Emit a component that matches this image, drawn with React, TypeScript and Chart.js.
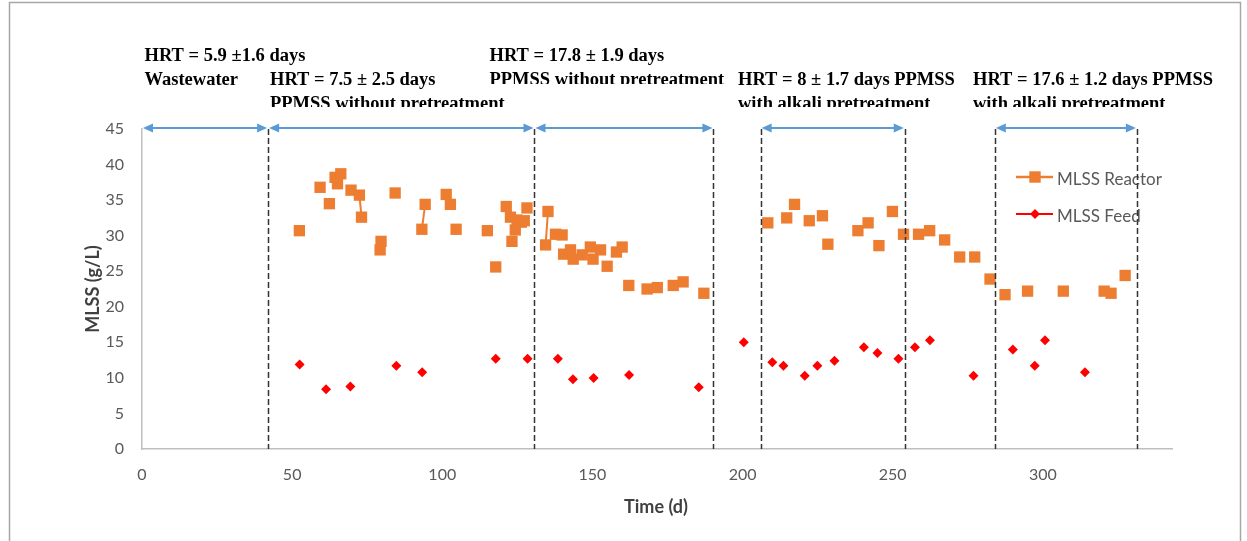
import React, { useEffect, useRef } from 'react';
import { Chart, registerables } from 'chart.js';

Chart.register(...registerables);

// ---- Data ----
const reactorDays = [
  52.4, 59.3, 62.4, 64.3, 65.1, 66.2, 69.6, 72.4, 73.1, 79.3, 79.6, 84.3, 93.2, 94.3,
  101.3, 102.7, 104.6, 115.0, 117.8, 121.3, 122.7, 123.2, 124.3, 124.9, 126.3, 127.3, 128.2,
  134.4, 135.2, 137.7, 139.9, 140.4, 142.7, 143.6, 146.6, 149.3, 150.2, 152.7, 154.9, 158.0,
  159.9, 162.1, 168.2, 171.6, 176.9, 180.2, 187.1, 208.4, 214.7, 217.3, 222.2, 226.6, 228.4,
  238.4, 241.8, 245.4, 249.9, 253.6, 258.6, 262.3, 267.3, 272.3, 277.3, 282.4, 287.4, 294.9,
  306.8, 320.4, 322.7, 327.4,
];
const reactorMLSS = [
  30.7, 36.8, 34.5, 38.2, 37.3, 38.7, 36.4, 35.7, 32.6, 28.0, 29.2, 36.0, 30.9, 34.4,
  35.8, 34.4, 30.9, 30.7, 25.6, 34.1, 32.6, 29.2, 30.8, 32.2, 31.9, 32.1, 33.9,
  28.7, 33.4, 30.2, 30.1, 27.4, 28.0, 26.7, 27.3, 28.4, 26.7, 28.0, 25.7, 27.7,
  28.4, 23.0, 22.5, 22.7, 23.0, 23.5, 21.9, 31.8, 32.5, 34.4, 32.1, 32.8, 28.8,
  30.7, 31.8, 28.6, 33.4, 30.2, 30.2, 30.7, 29.4, 27.0, 27.0, 23.9, 21.7, 22.2,
  22.2, 22.2, 21.9, 24.4,
];
// indices (0-based) of reactor points that are joined to the next point
const reactorLinkedStarts = [7, 12, 27];

const feedDays = [
  52.5, 61.3, 69.4, 84.7, 93.3, 117.8, 128.4, 138.5, 143.5, 150.4, 162.2, 185.4, 200.4,
  209.9, 213.6, 220.7, 224.9, 230.6, 240.4, 244.9, 251.9, 257.4, 262.4, 276.9, 290.0,
  297.3, 300.7, 314.0,
];
const feedMLSS = [
  11.9, 8.4, 8.8, 11.7, 10.8, 12.7, 12.7, 12.7, 9.8, 10.0, 10.4, 8.7, 15.0,
  12.2, 11.7, 10.3, 11.7, 12.4, 14.3, 13.5, 12.7, 14.3, 15.3, 10.3, 14.0,
  11.7, 15.3, 10.8,
];

const phaseBoundaries = [42, 130.7, 190.3, 206, 254, 284, 331.3];
const phaseArrows: [number, number][] = [
  [0, 42], [42, 130.7], [130.7, 190.3], [206, 254], [284, 331.3],
];

const xTickValues = [0, 50, 100, 150, 200, 250, 300];
const yTickValues = [0, 5, 10, 15, 20, 25, 30, 35, 40, 45];

const seriesNames = ['MLSS Reactor', 'MLSS Feed'];
const headerTexts: string[][] = [
  ['HRT = 5.9 ±1.6 days', 'Wastewater'],
  ['HRT = 7.5 ± 2.5 days', 'PPMSS without pretreatment'],
  ['HRT = 17.8 ± 1.9 days', 'PPMSS without pretreatment'],
  ['HRT = 8 ± 1.7 days PPMSS', 'with alkali pretreatment'],
  ['HRT = 17.6 ± 1.2 days PPMSS', 'with alkali pretreatment'],
];

const ORANGE = '#ED7D31';
const RED = '#FF0000';
const BLUE = '#5B9BD5';

export default function App() {
  const ref = useRef<HTMLCanvasElement>(null);

  useEffect(() => {
    const canvas = ref.current!;
    const reactorData = reactorDays.map((d, i) => ({ x: d, y: reactorMLSS[i] }));
    const feedData = feedDays.map((d, i) => ({ x: d, y: feedMLSS[i] }));
    const linked = new Set(reactorLinkedStarts);

    // header text box placement (pixels): x, first baseline, clip bottom
    const headerPos = [
      { x: 144.5, base: 61, clip: 200 },
      { x: 270, base: 85, clip: 107 },
      { x: 489.5, base: 61, clip: 84 },
      { x: 738, base: 85, clip: 107 },
      { x: 973, base: 85, clip: 107 },
    ];

    const overlay = {
      id: 'overlay',
      beforeDraw(chart: any) {
        const { ctx } = chart;
        ctx.save();
        ctx.fillStyle = '#ffffff';
        ctx.fillRect(0, 0, chart.width, chart.height);
        ctx.strokeStyle = '#a6a6a6';
        ctx.lineWidth = 1.5;
        ctx.beginPath();
        ctx.moveTo(9.5, 545);
        ctx.lineTo(9.5, 2.5);
        ctx.lineTo(1240.5, 2.5);
        ctx.lineTo(1240.5, 545);
        ctx.stroke();
        ctx.restore();
      },
      afterDatasetsDraw(chart: any) {
        const { ctx, chartArea, scales } = chart;
        const xs = scales.x;
        const ys = scales.y;
        ctx.save();

        // legend
        const lx0 = 1016, lx1 = 1053, lxm = 1035;
        ctx.strokeStyle = ORANGE;
        ctx.lineWidth = 2.5;
        ctx.beginPath(); ctx.moveTo(lx0, 177); ctx.lineTo(lx1, 177); ctx.stroke();
        ctx.fillStyle = ORANGE;
        ctx.fillRect(lxm - 5.7, 177 - 5.7, 11.4, 11.4);
        ctx.strokeStyle = RED;
        ctx.lineWidth = 2;
        ctx.beginPath(); ctx.moveTo(lx0, 214); ctx.lineTo(lx1, 214); ctx.stroke();
        ctx.fillStyle = RED;
        ctx.beginPath();
        ctx.moveTo(lxm, 214 - 5); ctx.lineTo(lxm + 5, 214); ctx.lineTo(lxm, 214 + 5); ctx.lineTo(lxm - 5, 214);
        ctx.closePath(); ctx.fill();
        ctx.fillStyle = '#595959';
        ctx.font = '17px Lato';
        ctx.textBaseline = 'middle';
        ctx.textAlign = 'left';
        ctx.fillText(seriesNames[0], 1057, 180);
        ctx.fillText(seriesNames[1], 1057, 217);

        // dashed phase boundaries
        ctx.strokeStyle = '#333333';
        ctx.lineWidth = 1.5;
        ctx.setLineDash([6, 3]);
        for (const b of phaseBoundaries) {
          const px = Math.round(xs.getPixelForValue(b)) + 0.5;
          ctx.beginPath();
          ctx.moveTo(px, chartArea.top);
          ctx.lineTo(px, chartArea.bottom);
          ctx.stroke();
        }
        ctx.setLineDash([]);

        // double-headed arrows
        const ay = ys.getPixelForValue(45) - 1;
        ctx.strokeStyle = BLUE;
        ctx.fillStyle = BLUE;
        ctx.lineWidth = 2;
        for (const [a, b] of phaseArrows) {
          const p0 = xs.getPixelForValue(a) + 1;
          const p1 = xs.getPixelForValue(b) - 1;
          ctx.beginPath(); ctx.moveTo(p0 + 6, ay); ctx.lineTo(p1 - 6, ay); ctx.stroke();
          ctx.beginPath();
          ctx.moveTo(p0, ay); ctx.lineTo(p0 + 10, ay - 4.5); ctx.lineTo(p0 + 10, ay + 4.5); ctx.closePath(); ctx.fill();
          ctx.beginPath();
          ctx.moveTo(p1, ay); ctx.lineTo(p1 - 10, ay - 4.5); ctx.lineTo(p1 - 10, ay + 4.5); ctx.closePath(); ctx.fill();
        }

        // header text
        ctx.fillStyle = '#000000';
        ctx.font = 'bold 18.5px "Liberation Serif"';
        ctx.textAlign = 'left';
        ctx.textBaseline = 'alphabetic';
        headerTexts.forEach((lines, i) => {
          const p = headerPos[i];
          ctx.save();
          ctx.beginPath();
          ctx.rect(0, 0, chart.width, p.clip);
          ctx.clip();
          lines.forEach((t, j) => ctx.fillText(t, p.x, p.base + j * 24));
          ctx.restore();
        });

        // axis titles
        ctx.fillStyle = '#404040';
        ctx.font = 'bold 18px Lato';
        ctx.textAlign = 'center';
        ctx.textBaseline = 'middle';
        ctx.fillText('Time (d)', 656, 507);
        ctx.save();
        ctx.translate(93, 289);
        ctx.rotate(-Math.PI / 2);
        ctx.fillText('MLSS (g/L)', 0, 0);
        ctx.restore();

        ctx.restore();
      },
    };

    const chart = new Chart(canvas, {
      type: 'scatter',
      data: {
        datasets: [
          {
            label: seriesNames[0],
            data: reactorData,
            showLine: true,
            borderColor: ORANGE,
            backgroundColor: ORANGE,
            borderWidth: 2,
            pointStyle: 'rect',
            pointRadius: 8,
            pointBorderWidth: 0,
            pointBackgroundColor: ORANGE,
            segment: {
              borderColor: (c: any) => (linked.has(c.p0DataIndex) ? ORANGE : 'rgba(0,0,0,0)'),
            },
          } as any,
          {
            label: seriesNames[1],
            data: feedData,
            showLine: false,
            borderColor: RED,
            backgroundColor: RED,
            pointStyle: 'rectRot',
            pointRadius: 5,
            pointBorderWidth: 0,
            pointBackgroundColor: RED,
          } as any,
        ],
      },
      options: {
        responsive: false,
        animation: false,
        devicePixelRatio: 1,
        layout: { padding: { top: 129, right: 75, left: 0, bottom: 0 } },
        plugins: { legend: { display: false }, tooltip: { enabled: false } },
        scales: {
          x: {
            type: 'linear',
            min: 0,
            max: 343,
            afterBuildTicks: (s: any) => { s.ticks = xTickValues.map((v) => ({ value: v })); },
            afterFit: (s: any) => { s.height = 92; },
            ticks: { color: '#595959', font: { family: 'Lato', size: 16 }, padding: 16, maxRotation: 0 },
            grid: { display: false, drawTicks: false },
            border: { display: true, color: '#bfbfbf', width: 1.5 },
          },
          y: {
            type: 'linear',
            min: 0,
            max: 45,
            afterBuildTicks: (s: any) => { s.ticks = yTickValues.map((v) => ({ value: v })); },
            afterFit: (s: any) => { s.width = 142; },
            ticks: { color: '#595959', font: { family: 'Lato', size: 16 }, padding: 18 },
            grid: { display: false, drawTicks: false },
            border: { display: true, color: '#bfbfbf', width: 1.5 },
          },
        },
      } as any,
      plugins: [overlay],
    });
    return () => chart.destroy();
  }, []);

  return (
    <div style={{ position: 'fixed', left: 0, top: 0, width: 1247, height: 541, background: '#fff' }}>
      <canvas ref={ref} width={1247} height={541} style={{ display: 'block', width: 1247, height: 541 }} />
    </div>
  );
}
